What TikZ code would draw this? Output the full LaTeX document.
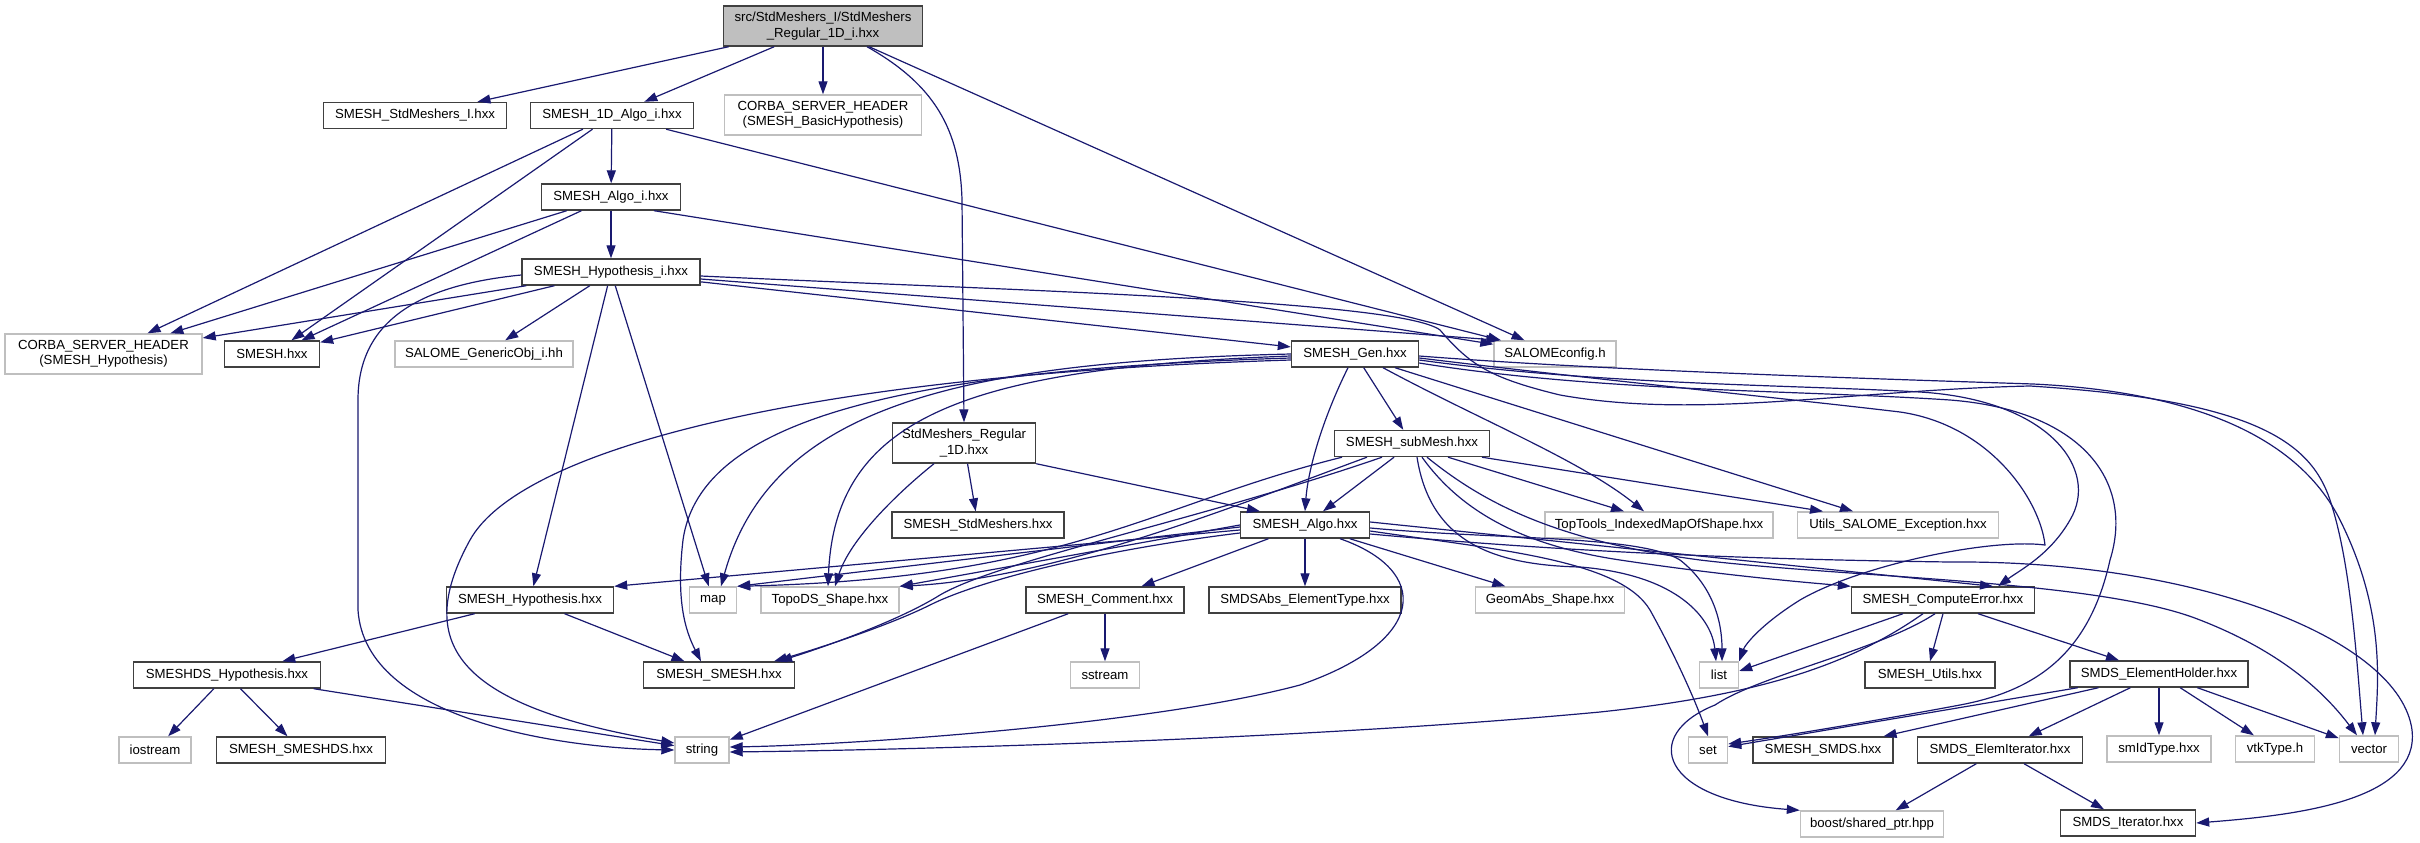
\documentclass[tikz,border=0pt]{standalone}
\usepackage{fontspec}
\setmainfont{Liberation Sans}
\usetikzlibrary{arrows.meta}
\definecolor{edgeblue}{HTML}{191970}
\definecolor{boxgray}{HTML}{BFBFBF}
\definecolor{boxdark}{HTML}{404040}

\begin{document}
\begin{tikzpicture}[
  x=1pt, y=-1pt,
  font=\fontsize{13.2}{15.3}\selectfont,
  box/.style={draw=boxdark, line width=1.4pt, align=center, inner sep=2pt, minimum height=26pt},
  extbox/.style={box, draw=boxgray},
  rootbox/.style={box, fill=boxgray},
  arr/.style={edgeblue, line width=1.2pt, -{Triangle[length=13pt,width=9pt]}}
]
\useasboundingbox (0,0) rectangle (2420,843);

\node[rootbox, minimum width=199pt, minimum height=40pt] (root) at (823,26) {src/StdMeshers\_I/StdMeshers\\\_Regular\_1D\_i.hxx};

\node[box, minimum width=183pt] (stdi) at (415,115.5) {SMESH\_StdMeshers\_I.hxx};
\node[box, minimum width=163pt] (algo1d) at (612,115.5) {SMESH\_1D\_Algo\_i.hxx};
\node[extbox, minimum width=197pt, minimum height=40pt] (corbabasic) at (823,115) {CORBA\_SERVER\_HEADER\\(SMESH\_BasicHypothesis)};

\node[box, minimum width=139pt] (algoi) at (611,197) {SMESH\_Algo\_i.hxx};
\node[box, minimum width=178pt] (hypi) at (611,272) {SMESH\_Hypothesis\_i.hxx};

\node[extbox, minimum width=197pt, minimum height=40pt] (corbahyp) at (103.5,354) {CORBA\_SERVER\_HEADER\\(SMESH\_Hypothesis)};
\node[box, minimum width=95pt] (smesh) at (272,354) {SMESH.hxx};
\node[extbox, minimum width=178pt] (genobj) at (484,354) {SALOME\_GenericObj\_i.hh};
\node[box, minimum width=127pt] (gen) at (1355,354) {SMESH\_Gen.hxx};
\node[extbox, minimum width=122pt] (salomecfg) at (1555,354) {SALOMEconfig.h};

\node[box, minimum width=143pt, minimum height=40pt] (regular1d) at (964,443) {StdMeshers\_Regular\\\_1D.hxx};
\node[box, minimum width=155pt] (submesh) at (1412,443.5) {SMESH\_subMesh.hxx};

\node[box, minimum width=172pt] (stdmeshers) at (978,525) {SMESH\_StdMeshers.hxx};
\node[box, minimum width=129pt] (algo) at (1305,525) {SMESH\_Algo.hxx};
\node[extbox, minimum width=228pt] (toptools) at (1659,525) {TopTools\_IndexedMapOfShape.hxx};
\node[extbox, minimum width=201pt] (utilsexc) at (1898,525) {Utils\_SALOME\_Exception.hxx};

\node[box, minimum width=167pt] (hyp) at (530,600) {SMESH\_Hypothesis.hxx};
\node[extbox, minimum width=47pt] (map) at (713,600) {map};
\node[extbox, minimum width=138pt] (topods) at (830,600) {TopoDS\_Shape.hxx};
\node[box, minimum width=158pt] (comment) at (1105,600) {SMESH\_Comment.hxx};
\node[box, minimum width=192pt] (elemtype) at (1305,600) {SMDSAbs\_ElementType.hxx};
\node[extbox, minimum width=149pt] (geomabs) at (1550,600) {GeomAbs\_Shape.hxx};
\node[box, minimum width=183pt] (computeerr) at (1943,600) {SMESH\_ComputeError.hxx};

\node[box, minimum width=187pt] (smeshdshyp) at (227,675) {SMESHDS\_Hypothesis.hxx};
\node[box, minimum width=151pt] (smeshsmesh) at (719,675) {SMESH\_SMESH.hxx};
\node[extbox, minimum width=69pt] (sstream) at (1105,675) {sstream};
\node[extbox, minimum width=39pt] (list) at (1719,675) {list};
\node[box, minimum width=130pt] (utils) at (1930,675) {SMESH\_Utils.hxx};
\node[box, minimum width=178pt] (elemholder) at (2159,674) {SMDS\_ElementHolder.hxx};

\node[extbox, minimum width=72pt] (iostream) at (155,750) {iostream};
\node[box, minimum width=169pt] (smeshsmeshds) at (301,750) {SMESH\_SMESHDS.hxx};
\node[extbox, minimum width=54pt] (string) at (702,750) {string};
\node[extbox, minimum width=39pt] (set) at (1708,750) {set};
\node[box, minimum width=140pt] (smeshsmds) at (1823,750) {SMESH\_SMDS.hxx};
\node[box, minimum width=165pt] (elemiter) at (2000,750) {SMDS\_ElemIterator.hxx};
\node[extbox, minimum width=104pt] (smidtype) at (2159,749) {smIdType.hxx};
\node[extbox, minimum width=79pt] (vtktype) at (2275,749) {vtkType.h};
\node[extbox, minimum width=59pt] (vector) at (2369,749) {vector};

\node[extbox, minimum width=143pt] (boost) at (1872,824) {boost/shared\_ptr.hpp};
\node[box, minimum width=135pt] (smdsiter) at (2128,823) {SMDS\_Iterator.hxx};

\draw[arr] (root) -- (stdi);
\draw[arr] (root) -- (algo1d);
\draw[arr] (root) -- (corbabasic);
\draw[arr] (root) -- (salomecfg);
\draw[arr] ([xshift=44pt]root.south) .. controls (935,85) and (960,130) .. (962,200) -- (regular1d.north);

\draw[arr] (algo1d) -- (algoi);
\draw[arr] (algo1d) -- (corbahyp);
\draw[arr] (algo1d) -- (smesh);
\draw[arr] (algo1d) -- (salomecfg);

\draw[arr] (algoi) -- (hypi);
\draw[arr] (algoi) -- (corbahyp);
\draw[arr] (algoi) -- (smesh);
\draw[arr] ([xshift=43pt]algoi.south) -- (salomecfg);

\draw[arr] (hypi) -- (corbahyp);
\draw[arr] (hypi) -- (smesh);
\draw[arr] (hypi) -- (genobj);
\draw[arr] (hypi) -- (hyp);
\draw[arr] (hypi) -- (map);
\draw[arr] ([shift={(0,3)}]hypi.west) .. controls (420,285) and (358,320) .. (358,400) -- (358,610) .. controls (365,720) and (560,748) .. (string.west);
\draw[arr] ([shift={(0,7)}]hypi.east) -- ([xshift=6pt]salomecfg.north west);
\draw[arr] (hypi) -- (gen);
\draw[arr] ([shift={(0,4)}]hypi.east) .. controls (1000,290) and (1400,300) .. (1440,330) .. controls (1470,365) and (1490,378) .. (1560,395) .. controls (1700,420) and (1850,390) .. (2030,386) .. controls (2250,400) and (2310,440) .. (2330,500) .. controls (2350,560) and (2356,650) .. ([xshift=-6pt]vector.north);

\draw[arr] (gen) -- (submesh);
\draw[arr] ([xshift=-7pt]gen.south) .. controls (1322,420) and (1308,470) .. (algo.north);
\draw[arr] ([xshift=28pt]gen.south) .. controls (1480,420) and (1580,460) .. ([xshift=-15pt]toptools.north);
\draw[arr] ([xshift=40pt]gen.south) -- ([xshift=-45pt]utilsexc.north);
\draw[arr] (gen.west) .. controls (950,362) and (770,410) .. ([xshift=8pt]map.north);
\draw[arr] ([shift={(0,2)}]gen.west) .. controls (960,368) and (835,420) .. ([xshift=-2pt]topods.north);
\draw[arr] ([shift={(0,4)}]gen.west) .. controls (900,370) and (700,420) .. (683,540) .. controls (676,600) and (685,630) .. ([xshift=-18pt]smeshsmesh.north);
\draw[arr] ([shift={(0,6)}]gen.west) .. controls (800,375) and (520,450) .. (470,540) .. controls (415,640) and (450,705) .. ([shift={(0,-7)}]string.west);
\draw[arr] ([shift={(0,6)}]gen.east) .. controls (1600,385) and (1800,385) .. (1920,392) .. controls (2050,400) and (2100,470) .. (2070,520) .. controls (2050,555) and (2020,570) .. ([xshift=55pt]computeerr.north);
\draw[arr] ([shift={(0,2)}]gen.east) .. controls (1600,370) and (1850,378) .. (2033,384) .. controls (2200,392) and (2300,440) .. (2340,520) .. controls (2385,610) and (2378,680) .. ([xshift=6pt]vector.north);
\draw[arr] ([shift={(0,9)}]gen.east) .. controls (1600,392) and (1800,390) .. (1950,400) .. controls (2080,410) and (2135,480) .. (2110,560) .. controls (2090,650) and (2040,690) .. (1960,705) .. controls (1880,720) and (1790,735) .. ([shift={(0,-6)}]set.east);
\draw[arr] ([shift={(0,4)}]gen.east) .. controls (1600,380) and (1800,400) .. (1900,412) .. controls (1990,425) and (2040,500) .. (2045,545) .. controls (1990,538) and (1860,565) .. (1800,600) .. controls (1760,625) and (1745,645) .. (list.north east);

\draw[arr] (submesh) -- (algo);
\draw[arr] ([xshift=36pt]submesh.south) -- ([xshift=-35pt]toptools.north);
\draw[arr] ([xshift=70pt]submesh.south) -- ([xshift=-75pt]utilsexc.north);
\draw[arr] ([xshift=-70pt]submesh.south) .. controls (1150,505) and (1070,578) .. (map.north east);
\draw[arr] ([xshift=-45pt]submesh.south) .. controls (1250,500) and (1060,578) .. (topods.north east);
\draw[arr] ([xshift=-30pt]submesh.south) .. controls (1200,520) and (1000,560) .. (940,595) .. controls (900,620) and (830,645) .. ([xshift=60pt]smeshsmesh.north);
\draw[arr] ([xshift=5pt]submesh.south) .. controls (1430,540) and (1490,565) .. (1580,567) .. controls (1680,575) and (1712,620) .. ([xshift=-3pt]list.north);
\draw[arr] ([xshift=10pt]submesh.south) .. controls (1460,510) and (1520,545) .. (1620,560) .. controls (1720,575) and (1800,582) .. (computeerr.north west);
\draw[arr] ([xshift=15pt]submesh.south) .. controls (1480,500) and (1550,540) .. (1700,560) .. controls (1850,578) and (2100,580) .. (2200,620) .. controls (2290,655) and (2330,700) .. ([xshift=-12pt]vector.north);

\draw[arr] ([shift={(0,5)}]algo.west) -- (hyp.north east);
\draw[arr] ([shift={(0,2)}]algo.west) -- (map.north east);
\draw[arr] (algo.west) -- (topods.north east);
\draw[arr] ([shift={(0,8)}]algo.west) .. controls (1100,550) and (980,580) .. (930,605) .. controls (890,625) and (820,648) .. ([xshift=55pt]smeshsmesh.north);
\draw[arr] ([xshift=35pt]algo.south) .. controls (1430,570) and (1430,640) .. (1300,685) .. controls (1150,725) and (850,745) .. ([shift={(0,-3)}]string.east);
\draw[arr] (algo) -- (comment);
\draw[arr] (algo) -- (elemtype);
\draw[arr] (algo) -- (geomabs);
\draw[arr] ([shift={(0,3)}]algo.east) .. controls (1500,540) and (1640,535) .. (1680,560) .. controls (1712,585) and (1722,620) .. ([xshift=3pt]list.north);
\draw[arr] ([shift={(0,6)}]algo.east) .. controls (1500,550) and (1620,560) .. (1650,610) .. controls (1675,655) and (1695,700) .. (set.north);
\draw[arr] ([shift={(0,-3)}]algo.east) -- ([xshift=50pt]computeerr.north);
\draw[arr] ([shift={(0,9)}]algo.east) .. controls (1600,555) and (1800,560) .. (1950,562) .. controls (2200,560) and (2400,640) .. (2412,730) .. controls (2420,800) and (2300,815) .. (smdsiter.east);

\draw[arr] (regular1d) -- (stdmeshers);
\draw[arr] ([xshift=-30pt]regular1d.south) .. controls (895,495) and (850,540) .. ([xshift=5pt]topods.north);
\draw[arr] (regular1d.south east) -- ([xshift=-45pt]algo.north);

\draw[arr] (hyp) -- (smeshdshyp);
\draw[arr] (hyp) -- (smeshsmesh);
\draw[arr] (smeshdshyp) -- (iostream);
\draw[arr] (smeshdshyp) -- (smeshsmeshds);
\draw[arr] (smeshdshyp) -- (string);
\draw[arr] (comment) -- (sstream);
\draw[arr] (comment) -- (string);

\draw[arr] ([xshift=-40pt]computeerr.south) -- ([shift={(0,-4)}]list.east);
\draw[arr] ([xshift=-20pt]computeerr.south) .. controls (1850,665) and (1760,695) .. (1600,712) .. controls (1300,740) and (900,750) .. ([shift={(0,2)}]string.east);
\draw[arr] ([xshift=-8pt]computeerr.south) .. controls (1880,650) and (1760,675) .. (1715,705) .. controls (1640,735) and (1660,800) .. (boost.north west);
\draw[arr] (computeerr.south) -- (utils.north);
\draw[arr] ([xshift=35pt]computeerr.south) -- ([xshift=-40pt]elemholder.north);

\draw[arr] (elemholder) -- (smeshsmds);
\draw[arr] (elemholder) -- (set);
\draw[arr] (elemholder) -- (elemiter);
\draw[arr] (elemholder) -- (smidtype);
\draw[arr] (elemholder) -- (vtktype);
\draw[arr] (elemholder) -- (vector);
\draw[arr] (elemiter) -- (boost);
\draw[arr] (elemiter) -- (smdsiter);
\end{tikzpicture}
\end{document}
